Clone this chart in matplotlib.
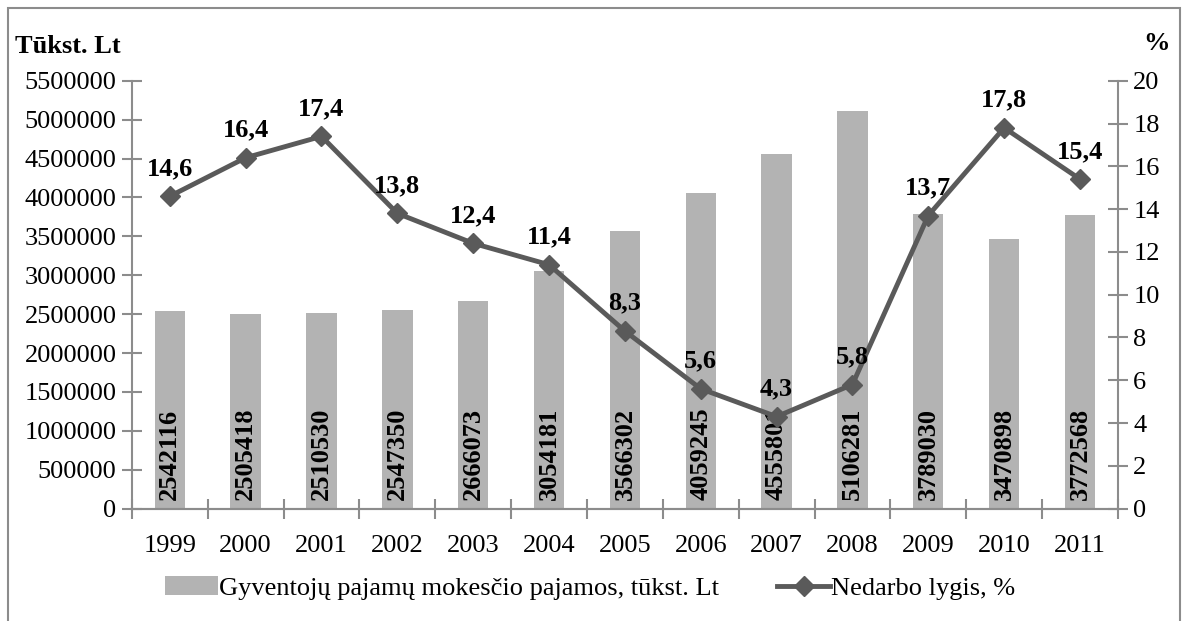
import matplotlib.pyplot as plt
import numpy as np
from matplotlib.patches import Rectangle
from matplotlib.ticker import FuncFormatter

years = ['1999', '2000', '2001', '2002', '2003', '2004', '2005', '2006',
         '2007', '2008', '2009', '2010', '2011']
tax_income = [2542116, 2505418, 2510530, 2547350, 2666073, 3054181, 3566302,
              4059245, 4555801, 5106281, 3789030, 3470898, 3772568]
unemployment = [14.6, 16.4, 17.4, 13.8, 12.4, 11.4, 8.3, 5.6, 4.3, 5.8, 13.7, 17.8, 15.4]
bar_label = 'Gyventojų pajamų mokesčio pajamos, tūkst. Lt'
line_label = 'Nedarbo lygis, %'

plt.rcParams['font.family'] = ['Liberation Serif', 'DejaVu Serif']
fs = 19
axis_grey = '#8c8c8c'

figure = plt.figure(figsize=(11.88, 6.21), dpi=100)
axes = figure.add_axes([0.111, 0.181, 0.83, 0.689])
axes2 = axes.twinx()

x = np.arange(len(years))
bars = axes.bar(x, tax_income, width=0.4, color='#b3b3b3', zorder=1, label=bar_label)
for xi, v in zip(x, tax_income):
    axes.annotate(str(v), (xi, 0), xytext=(0, 6), textcoords='offset points',
                  rotation=90, ha='center', va='bottom',
                  fontsize=fs, fontweight='bold', zorder=2)

line, = axes2.plot(x, unemployment, color='#5a5a5a', linewidth=3.5, marker='D',
                   markersize=10, label=line_label, zorder=3)
for xi, v in zip(x, unemployment):
    axes2.annotate(f'{v:.1f}'.replace('.', ','), (xi, v), xytext=(0, 20),
                   textcoords='offset points', ha='center', va='center',
                   fontsize=fs, fontweight='bold', zorder=4)

axes.set_xlim(-0.5, len(years) - 0.5)
axes.set_ylim(0, 5500000)
axes2.set_ylim(0, 20)
axes.set_yticks(np.arange(0, 5500001, 500000))
axes.yaxis.set_major_formatter(FuncFormatter(lambda v, p: f'{int(v)}'))
axes2.set_yticks(np.arange(0, 21, 2))
axes.set_xticks(x)
axes.set_xticklabels(years)
axes.set_xticks(np.arange(-0.5, len(years), 1), minor=True)

for ax in (axes, axes2):
    ax.spines['top'].set_visible(False)
    for side in ('left', 'right', 'bottom'):
        ax.spines[side].set_color(axis_grey)
        ax.spines[side].set_linewidth(1.5)
    ax.tick_params(axis='y', labelsize=fs, direction='inout', length=14, width=1.5,
                   color=axis_grey, pad=4)
axes.spines['right'].set_visible(False)
axes2.spines['left'].set_visible(False)
axes.tick_params(axis='x', which='major', length=0, labelsize=fs, pad=19)
axes.tick_params(axis='x', which='minor', direction='inout', length=14, width=1.5,
                 color=axis_grey)

figure.text(0.013, 0.925, 'Tūkst. Lt', fontsize=fs, fontweight='bold', ha='left', va='center')
figure.text(0.985, 0.93, '%', fontsize=fs, fontweight='bold', ha='right', va='center')

figure.legend(handles=[bars, line], labels=[bar_label, line_label], loc='center',
              bbox_to_anchor=(0.497, 0.053), ncol=2, frameon=False, fontsize=fs,
              handlelength=2.0, handletextpad=0.05, columnspacing=2.2)

border = Rectangle((8 / 1188, -0.1), 1172 / 1188, 1.1 - 8 / 621, transform=figure.transFigure,
                   fill=False, edgecolor=axis_grey, linewidth=1.5, clip_on=False)
figure.patches.append(border)

figure.savefig('out.png', dpi=100)
